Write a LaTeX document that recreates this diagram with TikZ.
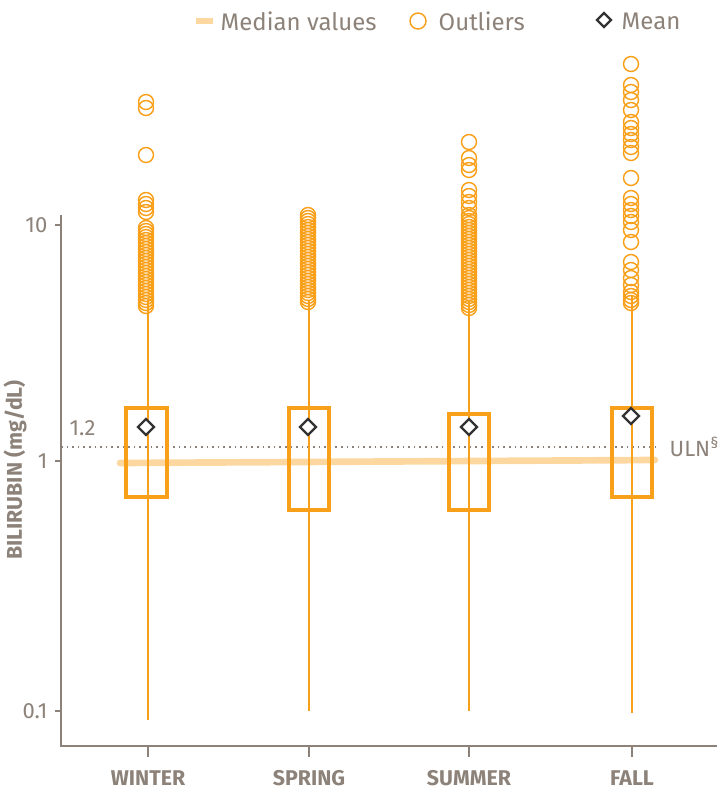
\documentclass[tikz,border=0pt]{standalone}
\usepackage{fontspec}
\setmainfont{Fira Sans}
\begin{document}
\begin{tikzpicture}[x=0.75pt,y=-0.75pt,
  ax/.style={draw=axgray,line width=1.4pt},
  boxst/.style={draw=ora,line width=2.6pt},
  outl/.style={draw=ora,line width=1.1pt},
  meanst/.style={draw=dk,line width=1.8pt},
  lbl/.style={text=axgray,font=\fontsize{16.5}{16.5}\selectfont},
  leg/.style={text=axgray,font=\fontsize{18}{18}\selectfont},
  cat/.style={text=axgray,font=\bfseries\fontsize{16}{16}\selectfont}]
\definecolor{ora}{HTML}{F9A01B}
\definecolor{lora}{HTML}{FDD7A0}
\definecolor{axgray}{HTML}{8C8279}
\definecolor{dk}{HTML}{333333}
\useasboundingbox (0,0) rectangle (727,793);
% legend
\draw[lora,line width=4.5pt] (196,21) -- (213,21);
\node[leg,anchor=west] (lmed) at (216,21) {Median values};
\draw[outl] (418,21) circle (8);
\node[leg,anchor=west] (lout) at (434,21) {Outliers};
\draw[meanst] (604,13) -- (611,20) -- (604,27) -- (597,20) -- cycle;
\node[leg,anchor=west] (lmean) at (617,21) {Mean};
% median line
\draw[lora,line width=5pt,line cap=round] (120,463) -- (655,460);
% uln
\draw[axgray,dash pattern=on 1.2pt off 3pt,line width=1.3pt] (61,447) -- (655,447);
\node[lbl,anchor=west] (v12) at (65,428) {1.2};
\node[lbl,anchor=west] (uln) at (665,447) {ULN\textsuperscript{§}};
% axes
\draw[ax] (61,215) -- (61,746) -- (717,746);
\foreach \y/\t in {225/10,461/1,711/0.1}{
  \draw[ax] (55,\y) -- (61,\y);
  \node[lbl,anchor=east] at (52,\y) {\t};}
\foreach \x/\t in {148/WINTER,309/SPRING,469/SUMMER,632/FALL}{
  \draw[ax] (\x,746) -- (\x,757);
  \node[cat] at (\x,778) {\t};}
\node[cat,rotate=90] (ylab) at (15,470) {BILIRUBIN (mg/dL)};
% whiskers
\draw[ora,line width=0.9pt] (148,300) -- (148,720);
\draw[ora,line width=0.9pt] (309,300) -- (309,711);
\draw[ora,line width=0.9pt] (469,300) -- (469,711);
\draw[ora,line width=0.9pt] (632,295) -- (632,713);
% outliers
\foreach \y in {102,108,155,200,204,208,212,228,231,...,308}
  \draw[outl] (146,\y) circle (7.5);
\foreach \y in {215,218,...,304}
  \draw[outl] (308,\y) circle (7.5);
\foreach \y in {142,158,165,170,190,196,202,208,215,218,...,310}
  \draw[outl] (469,\y) circle (7.5);
\foreach \y in {64,85,92,100,110,122,128,134,140,147,153,178,198,204,210,216,222,230,242,262,270,278,285,292,296,300,303}
  \draw[outl] (631,\y) circle (7.5);
% boxes
\draw[boxst] (126,408) rectangle (167,497);
\draw[boxst] (289,408) rectangle (329,510);
\draw[boxst] (449,414) rectangle (489,510);
\draw[boxst] (612,408) rectangle (652,497);
% means
\foreach \x/\y in {146/427,308/427,469/427,631/416}
  \draw[meanst,fill=white] (\x,\y-8) -- (\x+8,\y) -- (\x,\y+8) -- (\x-8,\y) -- cycle;
\end{tikzpicture}
\end{document}
